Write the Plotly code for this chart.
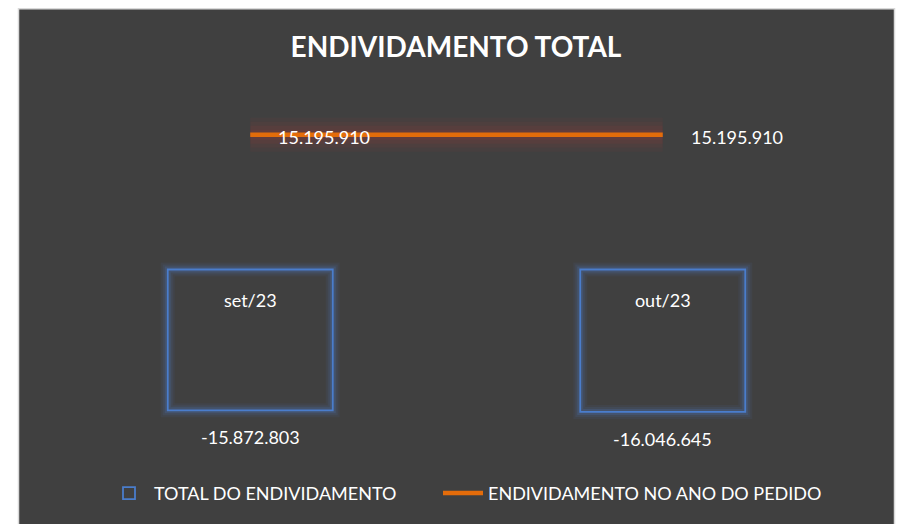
import plotly.graph_objects as go

categories = ["set/23", "out/23"]
total_endividamento = [-15872803, -16046645]
endividamento_ano_pedido = [15195910, 15195910]
title_text = "ENDIVIDAMENTO TOTAL"
series_names = ["TOTAL DO ENDIVIDAMENTO", "ENDIVIDAMENTO NO ANO DO PEDIDO"]


def fmt(v):
    return f"{v:,}".replace(",", ".")


FONT = "Lato"
W, H = 897, 524
ML, MR, MT, MB = 44, 28, 92, 72
PW, PH = W - ML - MR, H - MT - MB


def px(xp):
    return (xp - ML) / PW


def py(yp):
    return (H - MB - yp) / PH


fig = go.Figure()

# soft glow behind bars (layered)
for w, a in [(14, 0.07), (10, 0.10), (6, 0.18)]:
    fig.add_trace(go.Bar(
        x=categories, y=total_endividamento, width=0.4,
        marker=dict(color="rgba(0,0,0,0)", line=dict(color=f"rgba(79,129,210,{a})", width=w)),
        showlegend=False, hoverinfo="skip",
    ))
fig.add_trace(go.Bar(
    x=categories, y=total_endividamento, width=0.4, name=series_names[0],
    marker=dict(color="rgba(64,64,64,0)", line=dict(color="#4A7DCC", width=1.8)),
    legend="legend",
))
# soft glow behind line (layered)
for w, a in [(34, 0.07), (26, 0.08), (18, 0.10), (10, 0.14)]:
    fig.add_trace(go.Scatter(
        x=categories, y=endividamento_ano_pedido, mode="lines",
        line=dict(color=f"rgba(170,60,55,{a})", width=w),
        showlegend=False, hoverinfo="skip",
    ))
fig.add_trace(go.Scatter(
    x=categories, y=endividamento_ano_pedido, mode="lines", name=series_names[1],
    line=dict(color="#E46C0A", width=4.5),
    legend="legend2",
))

annotations = []
for c, v in zip(categories, endividamento_ano_pedido):
    annotations.append(dict(x=c, y=v, text=fmt(v), showarrow=False, xanchor="left",
                            yanchor="middle", xshift=26, yshift=-2,
                            font=dict(family=FONT, size=18, color="white")))
for c, v in zip(categories, total_endividamento):
    annotations.append(dict(x=c, y=v, text=fmt(v), showarrow=False, xanchor="center",
                            yanchor="top", yshift=-14,
                            font=dict(family=FONT, size=18, color="white")))

legend_common = dict(orientation="h", yanchor="middle", y=py(499), xanchor="left",
                     font=dict(family=FONT, size=18, color="white"),
                     bgcolor="rgba(0,0,0,0)", itemwidth=40)

fig.update_layout(
    width=W, height=H,
    margin=dict(l=ML, r=MR, t=MT, b=MB),
    paper_bgcolor="white",
    plot_bgcolor="rgba(0,0,0,0)",
    barmode="overlay",
    title=dict(text=f"<b>{title_text}</b>", x=456 / W, xanchor="center", xref="container",
               y=1 - 47 / H, yanchor="middle", yref="container",
               font=dict(family=FONT, size=28, color="white")),
    xaxis=dict(range=[-0.5, 1.5], anchor="free", position=0.5, showline=False,
               showgrid=False, zeroline=False, ticks="", ticklabelstandoff=18,
               tickfont=dict(family=FONT, size=18, color="white")),
    yaxis=dict(range=[-20e6, 20e6], visible=False, showgrid=False, zeroline=False),
    legend=dict(x=px(104), **legend_common),
    legend2=dict(x=px(438), **legend_common),
    annotations=annotations,
    shapes=[dict(type="rect", xref="paper", yref="paper", layer="below",
                 x0=px(18.5), x1=px(894.5), y0=py(7.5), y1=py(540),
                 fillcolor="#404040", line=dict(color="#D9D9D9", width=1.5))],
    showlegend=True,
)

fig.write_html("out.html", config={"displayModeBar": False},
               post_script="document.body.style.margin='0';")
